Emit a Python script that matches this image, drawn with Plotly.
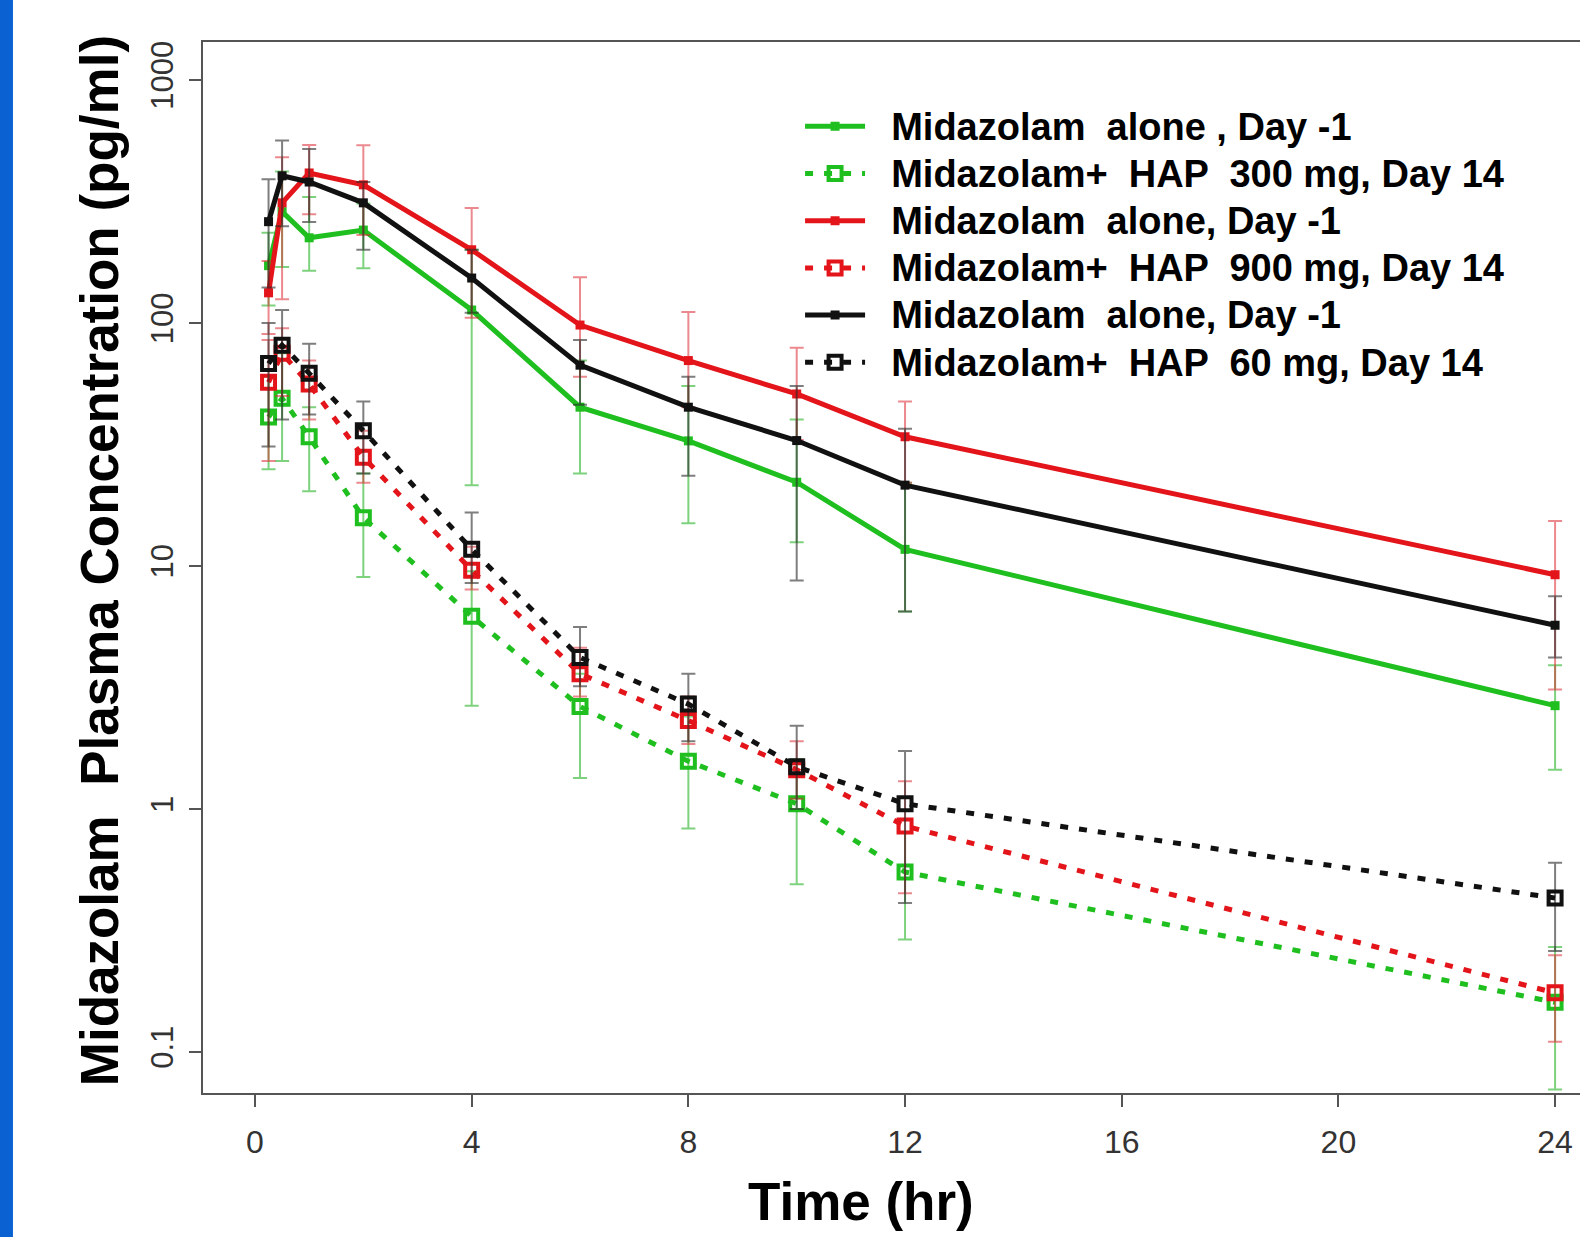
import plotly.graph_objects as go

# sampling times (hr)
time = [0.25, 0.5, 1, 2, 4, 6, 8, 10, 12, 24]

# mean concentrations (pg/ml) and error-bar bounds
alone_a = [172, 287, 224, 241, 113, 45, 32.7, 22.1, 11.7, 2.66]
alone_a_hi = [235, 420, 330, 310, 200, 70, 55, 40, 22, 3.9]
alone_a_lo = [118, 170, 164, 168, 21.5, 24, 15, 12.5, 6.5, 1.45]

hap300 = [41, 49, 34, 15.8, 6.2, 2.64, 1.57, 1.05, 0.55, 0.16]
hap300_hi = [60, 75, 45, 24, 9.5, 3.6, 2.4, 1.6, 0.8, 0.27]
hap300_lo = [25, 27, 20.3, 9.0, 2.66, 1.34, 0.83, 0.49, 0.29, 0.07]

alone_b = [133, 312, 414, 370, 200, 98, 70, 51, 34, 9.2]
alone_b_hi = [180, 480, 540, 538, 297, 154, 111, 79, 47.5, 15.3]
alone_b_lo = [90, 125, 280, 230, 105, 60, 45, 33, 22, 3.1]

hap900 = [57, 75, 56, 28, 9.6, 3.6, 2.31, 1.45, 0.85, 0.175]
hap900_hi = [85, 95, 70, 36, 12, 4.6, 2.9, 1.9, 1.3, 0.25]
hap900_lo = [27, 50, 40, 22, 8.0, 2.9, 1.85, 1.1, 0.45, 0.11]

alone_c = [261, 403, 380, 312, 153, 67, 45, 32.8, 21.5, 5.7]
alone_c_hi = [390, 563, 520, 380, 200, 85, 60, 55, 36.7, 7.5]
alone_c_lo = [140, 250, 260, 200, 110, 46, 23.5, 8.7, 6.5, 4.2]

hap60 = [68, 81, 62, 36, 11.7, 4.2, 2.7, 1.49, 1.05, 0.43]
hap60_hi = [100, 113, 82, 47.5, 16.6, 5.6, 3.6, 2.2, 1.73, 0.6]
hap60_lo = [31, 40, 42, 24, 8.5, 3.2, 1.9, 1.0, 0.41, 0.26]

x_ticks = [0, 4, 8, 12, 16, 20, 24]
y_ticks = [0.1, 1, 10, 100, 1000]
y_tick_labels = ["0.1", "1", "10", "100", "1000"]

GREEN = "#1fbf1f"
RED = "#e3141a"
BLACK = "#111111"
ERR = {GREEN: "rgba(40,180,40,0.6)", RED: "rgba(220,40,50,0.55)", BLACK: "rgba(40,40,40,0.6)"}


def label(txt):
    # legend rows are tighter than the text size, so the glyphs are enlarged in a span
    return '<span style="font-size:38px">\u00a0\u00a0' + txt + '</span>'


series = [
    (label("Midazolam  alone , Day -1"), alone_a, alone_a_hi, alone_a_lo, GREEN, False),
    (label("Midazolam+  HAP  300 mg, Day 14"), hap300, hap300_hi, hap300_lo, GREEN, True),
    (label("Midazolam  alone, Day -1"), alone_b, alone_b_hi, alone_b_lo, RED, False),
    (label("Midazolam+  HAP  900 mg, Day 14"), hap900, hap900_hi, hap900_lo, RED, True),
    (label("Midazolam  alone, Day -1"), alone_c, alone_c_hi, alone_c_lo, BLACK, False),
    (label("Midazolam+  HAP  60 mg, Day 14"), hap60, hap60_hi, hap60_lo, BLACK, True),
]

fig = go.Figure()
for name, y, hi, lo, col, dashed in series:
    plus = [h - v for h, v in zip(hi, y)]
    minus = [v - l for v, l in zip(y, lo)]
    if dashed:
        line = dict(color=col, width=5, dash="8px,11px")
        marker = dict(symbol="square-open", size=13, color=col, line=dict(color=col, width=4))
    else:
        line = dict(color=col, width=5)
        marker = dict(symbol="square", size=9, color=col)
    fig.add_trace(go.Scatter(
        x=time, y=y, name=name, mode="lines+markers",
        line=line, marker=marker,
        error_y=dict(type="data", array=plus, arrayminus=minus,
                     color=ERR[col], thickness=2, width=7),
    ))

fig.update_layout(
    width=1580, height=1237,
    margin=dict(l=203, r=0, t=42, b=144),
    paper_bgcolor="white", plot_bgcolor="white",
    font=dict(family="Liberation Sans, Arial, sans-serif", color="#333333"),
    legend=dict(
        x=0.4336, y=0.947, xanchor="left", yanchor="top",
        bgcolor="rgba(0,0,0,0)", itemwidth=60,
        font=dict(size=34, color="black", family="Liberation Sans, Arial, sans-serif", weight="bold"),
    ),
    showlegend=True,
)

fig.update_xaxes(
    range=[-0.96, 24.46], tickvals=x_ticks, ticks="outside", ticklen=12, tickwidth=2,
    tickcolor="#555555", showline=True, linecolor="#555555", linewidth=2, mirror=True,
    showgrid=False, zeroline=False, tickfont=dict(size=32, color="#333333"),
    ticklabelstandoff=8, automargin=False,
)
fig.update_yaxes(
    type="log", range=[-1.169, 3.156], tickvals=y_ticks, ticktext=y_tick_labels,
    tickangle=-90, ticks="outside", ticklen=12, tickwidth=2, tickcolor="#555555",
    showline=True, linecolor="#555555", linewidth=2, mirror=False,
    showgrid=False, zeroline=False, tickfont=dict(size=31, color="#333333"),
    ticklabelstandoff=4, automargin=False,
)

# axis titles
fig.add_annotation(text="Time (hr)", xref="paper", yref="paper", x=0.478, y=-0.1037,
                   xanchor="center", yanchor="middle", showarrow=False,
                   font=dict(size=53, color="black", weight="bold"))
fig.add_annotation(text="Midazolam  Plasma Concentration (pg/ml)", xref="paper", yref="paper",
                   x=-0.0755, y=0.506, xanchor="center", yanchor="middle",
                   textangle=-90, showarrow=False,
                   font=dict(size=53, color="black", weight="bold"))

# blue strip at the left edge of the original image
fig.add_shape(type="rect", xref="paper", yref="paper", x0=-0.1475, x1=-0.138, y0=-0.14, y1=1.05,
              fillcolor="#0a62d2", line=dict(width=0), layer="below")

# drop the default page margin so the figure sits at the window's top-left corner
fig.write_html("out.html", config={"displayModeBar": False},
               post_script="document.body.style.margin='0';")
